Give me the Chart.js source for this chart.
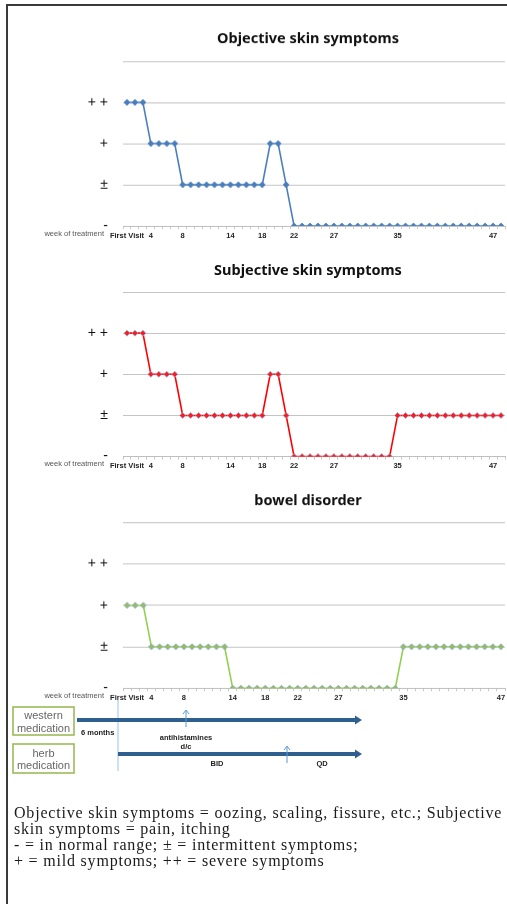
<!DOCTYPE html>
<html>
<head>
<meta charset="utf-8">
<script src="https://cdn.jsdelivr.net/npm/chart.js@4"></script>
<style>
  body { margin: 0; background: #fff; }
  #page { position: relative; width: 507px; height: 904px; overflow: hidden; }
  #frame { position: absolute; left: 6px; top: 4px; width: 510px; height: 910px;
           border-left: 2px solid #3a3a3a; border-top: 2px solid #3a3a3a; }
  .box { position: absolute; left: 8px; width: 499px; }
  #caption { position: absolute; left: 14px; top: 805px; width: 493px; white-space: nowrap;
             font-family: "Liberation Serif", serif; font-size: 16px; letter-spacing: 0.8px;
             line-height: 16px; color: #1a1a1a; }
  #meds { position: absolute; left: 0; top: 0; }
</style>
</head>
<body>
<div id="page">
  <div id="frame"></div>
  <div class="box" style="top:15px;height:233.5px"><canvas id="objChart"></canvas></div>
  <div class="box" style="top:250px;height:230px"><canvas id="subjChart"></canvas></div>
  <div class="box" style="top:480px;height:230.7px"><canvas id="bowelChart"></canvas></div>

  <svg id="meds" width="507" height="904" viewBox="0 0 507 904">
    <g font-family="Liberation Sans, sans-serif">
      <rect x="13" y="707" width="61" height="28" fill="#fff" stroke="#9bbb59" stroke-width="1.6"/>
      <text x="43.5" y="719" font-size="11" fill="#666" text-anchor="middle">western</text>
      <text x="43.5" y="732" font-size="11" fill="#666" text-anchor="middle">medication</text>
      <rect x="13" y="744" width="61" height="29" fill="#fff" stroke="#9bbb59" stroke-width="1.6"/>
      <text x="43.5" y="756.5" font-size="11" fill="#666" text-anchor="middle">herb</text>
      <text x="43.5" y="768.5" font-size="11" fill="#666" text-anchor="middle">medication</text>

      <line x1="118" y1="700" x2="118" y2="771" stroke="#9dc3e6" stroke-width="1"/>

      <line x1="77" y1="720" x2="356" y2="720" stroke="#2e5f8f" stroke-width="4"/>
      <polygon points="355,715.5 362,720 355,724.5" fill="#2e5f8f"/>
      <line x1="118" y1="754" x2="356" y2="754" stroke="#2e5f8f" stroke-width="4"/>
      <polygon points="355,749.5 362,754 355,758.5" fill="#2e5f8f"/>

      <line x1="186" y1="727" x2="186" y2="711" stroke="#5b9bd5" stroke-width="1"/>
      <polyline points="183,714 186,710 189,714" fill="none" stroke="#5b9bd5" stroke-width="1"/>
      <line x1="287" y1="763" x2="287" y2="747" stroke="#5b9bd5" stroke-width="1"/>
      <polyline points="284,750 287,746 290,750" fill="none" stroke="#5b9bd5" stroke-width="1"/>

      <g font-size="7.5" font-weight="bold" fill="#222">
        <text x="81" y="735">6 months</text>
        <text x="186" y="740" text-anchor="middle">antihistamines</text>
        <text x="186" y="748.5" text-anchor="middle">d/c</text>
        <text x="217" y="766" text-anchor="middle">BID</text>
        <text x="322" y="766" text-anchor="middle">QD</text>
      </g>
    </g>
  </svg>

  <div id="caption">
    Objective skin symptoms = oozing, scaling, fissure, etc.; Subjective<br>
    skin symptoms = pain, itching<br>
    - = in normal range; &plusmn; = intermittent symptoms;<br>
    + = mild symptoms; ++ = severe symptoms
  </div>
</div>

<script>
// semanas de tratamento (first visit = semana 1)
const weeks = Array.from({ length: 48 }, (_, i) => i + 1);
const bowelWeeks = weeks.slice(0, 47);
const shownWeeks = [4, 8, 14, 18, 22, 27, 35, 47];
const firstVisitLabel = 'First Visit';
const levelLabels = ['-', '±', '+', '+ +', ''];

// 0 = -, 1 = ±, 2 = +, 3 = ++
const objective = [3, 3, 3, 2, 2, 2, 2, 1, 1, 1, 1, 1, 1, 1, 1, 1, 1, 1, 2, 2, 1,
  0, 0, 0, 0, 0, 0, 0, 0, 0, 0, 0, 0, 0, 0, 0, 0, 0, 0, 0, 0, 0, 0, 0, 0, 0, 0, 0];
const subjective = [3, 3, 3, 2, 2, 2, 2, 1, 1, 1, 1, 1, 1, 1, 1, 1, 1, 1, 2, 2, 1,
  0, 0, 0, 0, 0, 0, 0, 0, 0, 0, 0, 0, 0,
  1, 1, 1, 1, 1, 1, 1, 1, 1, 1, 1, 1, 1, 1];
const bowel = [2, 2, 2, 1, 1, 1, 1, 1, 1, 1, 1, 1, 1,
  0, 0, 0, 0, 0, 0, 0, 0, 0, 0, 0, 0, 0, 0, 0, 0, 0, 0, 0, 0, 0,
  1, 1, 1, 1, 1, 1, 1, 1, 1, 1, 1, 1, 1];

// titulo e "week of treatment" desenhados à mão
const headingPlugin = {
  id: 'heading',
  afterDraw(chart, args, opts) {
    const ctx = chart.ctx;
    const area = chart.chartArea;
    ctx.save();
    ctx.fillStyle = '#111';
    ctx.font = 'bold 14.5px "Noto Sans", sans-serif';
    ctx.textAlign = 'center';
    ctx.textBaseline = 'middle';
    ctx.fillText(opts.text, 300, opts.y);
    ctx.fillStyle = '#555';
    ctx.font = '7.5px "Liberation Sans", sans-serif';
    ctx.textAlign = 'right';
    ctx.fillText('week of treatment', area.left - 19, area.bottom + 7.5);
    ctx.restore();
  }
};

function criarGrafico(id, labels, dados, cor, corPonto, bordaPonto, titulo, tituloY, topo) {
  const ctx = document.getElementById(id).getContext('2d');
  return new Chart(ctx, {
    type: 'line',
    data: {
      labels: labels,
      datasets: [{
        data: dados,
        borderColor: cor,
        borderWidth: 1.6,
        pointStyle: 'rectRot',
        pointRadius: 3,
        pointBackgroundColor: corPonto,
        pointBorderColor: bordaPonto,
        pointBorderWidth: 0.8,
        tension: 0
      }]
    },
    options: {
      responsive: true,
      maintainAspectRatio: false,
      animation: false,
      layout: { autoPadding: false, padding: { top: topo, right: 2, left: 0, bottom: 0 } },
      plugins: {
        legend: { display: false },
        tooltip: { enabled: false },
        heading: { text: titulo, y: tituloY }
      },
      scales: {
        x: {
          offset: true,
          afterFit: (scale) => {
            scale.height = 20;
            scale.paddingLeft = 0;
            scale.paddingRight = 0;
          },
          border: { display: true, color: '#bfbfbf' },
          grid: { drawOnChartArea: false, drawTicks: true, tickLength: 3, color: '#c8c8c8', offset: true },
          ticks: {
            autoSkip: false,
            maxRotation: 0,
            padding: 2,
            color: '#222',
            font: { family: '"Liberation Sans", sans-serif', size: 7.5, weight: 'bold' },
            callback: function (value) {
              const w = this.getLabelForValue(value);
              if (w === 1) return firstVisitLabel;
              return shownWeeks.includes(w) ? String(w) : '';
            }
          }
        },
        y: {
          min: 0,
          max: 4,
          afterFit: (scale) => { scale.width = 115; },
          border: { display: false },
          grid: { color: '#c4c4c4', lineWidth: 1, drawTicks: false },
          ticks: {
            stepSize: 1,
            padding: 15,
            color: '#111',
            font: { family: '"Liberation Sans", sans-serif', size: 14 },
            callback: (v) => levelLabels[v]
          }
        }
      }
    },
    plugins: [headingPlugin]
  });
}

criarGrafico('objChart', weeks, objective, '#4a7ebb', '#4a7ebb', '#4a7ebb',
  'Objective skin symptoms', 24, 46);
criarGrafico('subjChart', weeks, subjective, '#ff0000', '#ff1a1a', '#8eb4e3',
  'Subjective skin symptoms', 20.7, 42);
criarGrafico('bowelChart', bowelWeeks, bowel, '#92d050', '#9bbb59', '#7fa7d8',
  'bowel disorder', 21, 42.3);
</script>
</body>
</html>
